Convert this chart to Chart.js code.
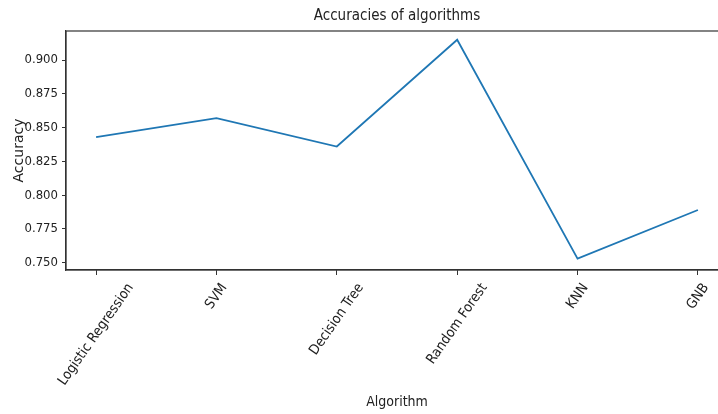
<!DOCTYPE html>
<html>
<head>
<meta charset="utf-8">
<script src="https://cdn.jsdelivr.net/npm/chart.js@4"></script>
<style>
  html, body { margin: 0; padding: 0; background: #fff; overflow: hidden; }
  #wrap { width: 740px; height: 414px; }
</style>
</head>
<body>
<div id="wrap"><canvas id="chart" width="740" height="414"></canvas></div>
<script>
const categories = ['Logistic Regression', 'SVM', 'Decision Tree', 'Random Forest', 'KNN', 'GNB'];
const accuracy = [0.843, 0.857, 0.836, 0.915, 0.753, 0.789];
const yTicks = [0.750, 0.775, 0.800, 0.825, 0.850, 0.875, 0.900];

const FONT = "'Liberation Sans Narrow', 'DejaVu Sans Condensed', 'Liberation Sans', sans-serif";
const TEXT = '#222';
const AXIS = '#333';

// top/right spines of the matplotlib box
const boxPlugin = {
    id: 'box',
    afterDraw(chart) {
        const {ctx, chartArea: a} = chart;
        ctx.save();
        ctx.strokeStyle = AXIS;
        ctx.lineWidth = 1.2;
        ctx.strokeRect(a.left, a.top, a.right - a.left, a.bottom - a.top);
        ctx.restore();
    }
};

// rotated x labels, centred under each tick like matplotlib
const xLabelPlugin = {
    id: 'xLabels',
    afterDraw(chart) {
        const {ctx, chartArea} = chart;
        const x = chart.scales.x;
        const ang = 55 * Math.PI / 180;
        ctx.save();
        ctx.font = '14px ' + FONT;
        ctx.fillStyle = TEXT;
        categories.forEach((c, i) => {
            const w = ctx.measureText(c).width;
            const h = 11;
            const bh = w * Math.sin(ang) + h * Math.cos(ang);
            const px = x.getPixelForValue(i);
            ctx.save();
            ctx.translate(px, chartArea.bottom + 12 + bh / 2);
            ctx.rotate(-ang);
            ctx.textAlign = 'center';
            ctx.textBaseline = 'middle';
            ctx.fillText(c, 0, 0);
            ctx.restore();
        });
        ctx.restore();
    }
};

const chart = document.querySelector('canvas#chart');

new Chart(chart, {
    type: 'line',
    data: {
        datasets: [{
            label: 'Accuracy',
            data: accuracy.map((v, i) => ({x: i, y: v})),
            borderColor: '#1f77b4',
            borderWidth: 1.8,
            pointRadius: 0,
            tension: 0,
            fill: false
        }]
    },
    options: {
        responsive: false,
        animation: false,
        devicePixelRatio: 1,
        layout: {padding: {top: 0, left: 0, right: 12, bottom: 0}},
        plugins: {
            legend: {display: false},
            tooltip: {enabled: false},
            title: {
                display: true,
                text: 'Accuracies of algorithms',
                fullSize: false,
                color: TEXT,
                font: {family: FONT, size: 15, weight: 'normal'},
                padding: {top: 7, bottom: 6}
            }
        },
        scales: {
            x: {
                type: 'linear',
                min: -0.25,
                max: 5.25,
                afterBuildTicks: s => { s.ticks = categories.map((c, i) => ({value: i})); },
                afterFit: s => { s.height = 144; },
                ticks: {display: false},
                grid: {display: true, drawOnChartArea: false, drawTicks: true, tickLength: 5, color: AXIS, tickWidth: 1},
                border: {display: true, color: AXIS, width: 1.2},
                title: {
                    display: true,
                    text: 'Algorithm',
                    color: TEXT,
                    font: {family: FONT, size: 14},
                    padding: {top: 0, bottom: 3}
                }
            },
            y: {
                min: 0.7446,
                max: 0.9215,
                afterBuildTicks: s => { s.ticks = yTicks.map(v => ({value: v})); },
                afterFit: s => { s.width = 66; },
                ticks: {
                    color: TEXT,
                    font: {family: FONT, size: 13},
                    padding: 4,
                    callback: v => Number(v).toFixed(3)
                },
                grid: {display: true, drawOnChartArea: false, drawTicks: true, tickLength: 4, color: AXIS, tickWidth: 1},
                border: {display: true, color: AXIS, width: 1.2},
                title: {
                    display: true,
                    text: 'Accuracy',
                    color: TEXT,
                    font: {family: "'DejaVu Sans', sans-serif", size: 14},
                    padding: {top: 11, bottom: 0}
                }
            }
        }
    },
    plugins: [boxPlugin, xLabelPlugin]
});
</script>
</body>
</html>
